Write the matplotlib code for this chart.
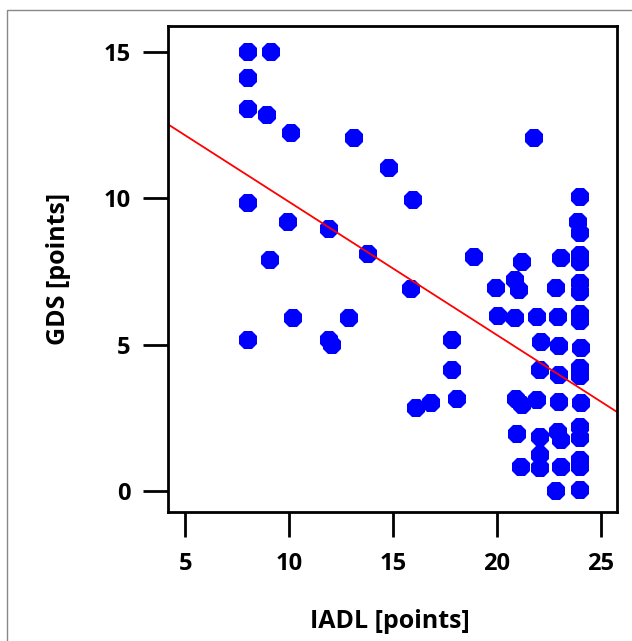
import numpy as np
import matplotlib
matplotlib.use("Agg")
import matplotlib.pyplot as plt
from matplotlib.patches import Rectangle

# IADL (x) and GDS (y) scores
iadl = [8.0, 9.15, 8.0, 8.0, 8.95, 10.1, 13.1, 14.8, 21.8, 15.95,
        8.0, 9.95, 11.9, 13.8, 9.1, 8.0, 10.2, 12.9, 11.9, 12.05,
        15.85, 18.9, 24.0, 23.9, 24.0, 23.1, 24.0, 24.0, 21.2, 19.95,
        20.85, 21.05, 22.85, 24.0, 24.0, 20.05, 20.85, 21.95, 22.95, 24.0,
        24.0, 17.85, 17.85, 18.1, 16.1, 16.85, 22.1, 23.0, 24.05, 22.05,
        23.0, 24.0, 24.0, 20.9, 21.2, 21.95, 23.0, 24.05, 20.95, 22.05,
        22.95, 23.1, 24.0, 24.0, 22.05, 21.15, 22.05, 23.1, 24.0, 24.0,
        22.85, 24.0]
gds = [15.0, 15.0, 14.1, 13.05, 12.85, 12.25, 12.05, 11.05, 12.05, 9.95,
       9.85, 9.2, 8.95, 8.1, 7.9, 5.15, 5.9, 5.9, 5.15, 4.98,
       6.9, 8.0, 10.05, 9.2, 8.8, 7.97, 8.05, 7.83, 7.83, 6.95,
       7.2, 6.88, 6.92, 7.12, 6.8, 5.97, 5.9, 5.93, 5.95, 6.05,
       5.82, 5.15, 4.13, 3.13, 2.85, 3.0, 5.1, 4.95, 4.87, 4.13,
       3.96, 4.2, 3.92, 3.15, 2.95, 3.1, 3.05, 3.0, 1.95, 1.83,
       2.02, 1.75, 2.2, 1.8, 1.22, 0.83, 0.77, 0.83, 1.06, 0.83,
       0.0, 0.03]

# fitted regression line
line_intercept = 14.43
line_slope = -0.455

x_ticks = [5, 10, 15, 20, 25]
y_ticks = [0, 5, 10, 15]

plt.rcParams["font.family"] = ["Open Sans", "DejaVu Sans"]

fig = plt.figure(figsize=(6.32, 6.41), dpi=100)
ax = fig.add_axes([0.266, 0.2012, 0.710, 0.7582])

ax.plot(iadl, gds, linestyle="none", marker="8", markersize=13.5,
        color="#0000ff", markeredgewidth=0)

xlim = (4.18, 25.77)
xs = np.array(xlim)
ax.plot(xs, line_intercept + line_slope * xs, color="#ff0000", lw=1.3)

ax.set_xlim(xlim)
ax.set_ylim(-0.72, 15.89)
ax.set_xticks(x_ticks)
ax.set_yticks(y_ticks)

for s in ax.spines.values():
    s.set_linewidth(2)
ax.tick_params(direction="out", length=18, width=2, labelsize=17)
ax.tick_params(axis="x", pad=11)
ax.tick_params(axis="y", pad=9)
for lab in ax.get_xticklabels() + ax.get_yticklabels():
    lab.set_fontweight("bold")

ax.set_xlabel("IADL [points]", fontsize=18, fontweight="bold")
ax.set_ylabel("GDS [points]", fontsize=18, fontweight="bold")
ax.xaxis.set_label_coords(0.495, -0.2)
ax.yaxis.set_label_coords(-0.216, 0.5)

# thin grey frame around the figure
fig.patches.append(Rectangle((7 / 632, -0.1), 1.0, 1.0844, fill=False,
                             edgecolor="#888888", lw=1,
                             transform=fig.transFigure, figure=fig))

fig.savefig("out.png", dpi=100)
